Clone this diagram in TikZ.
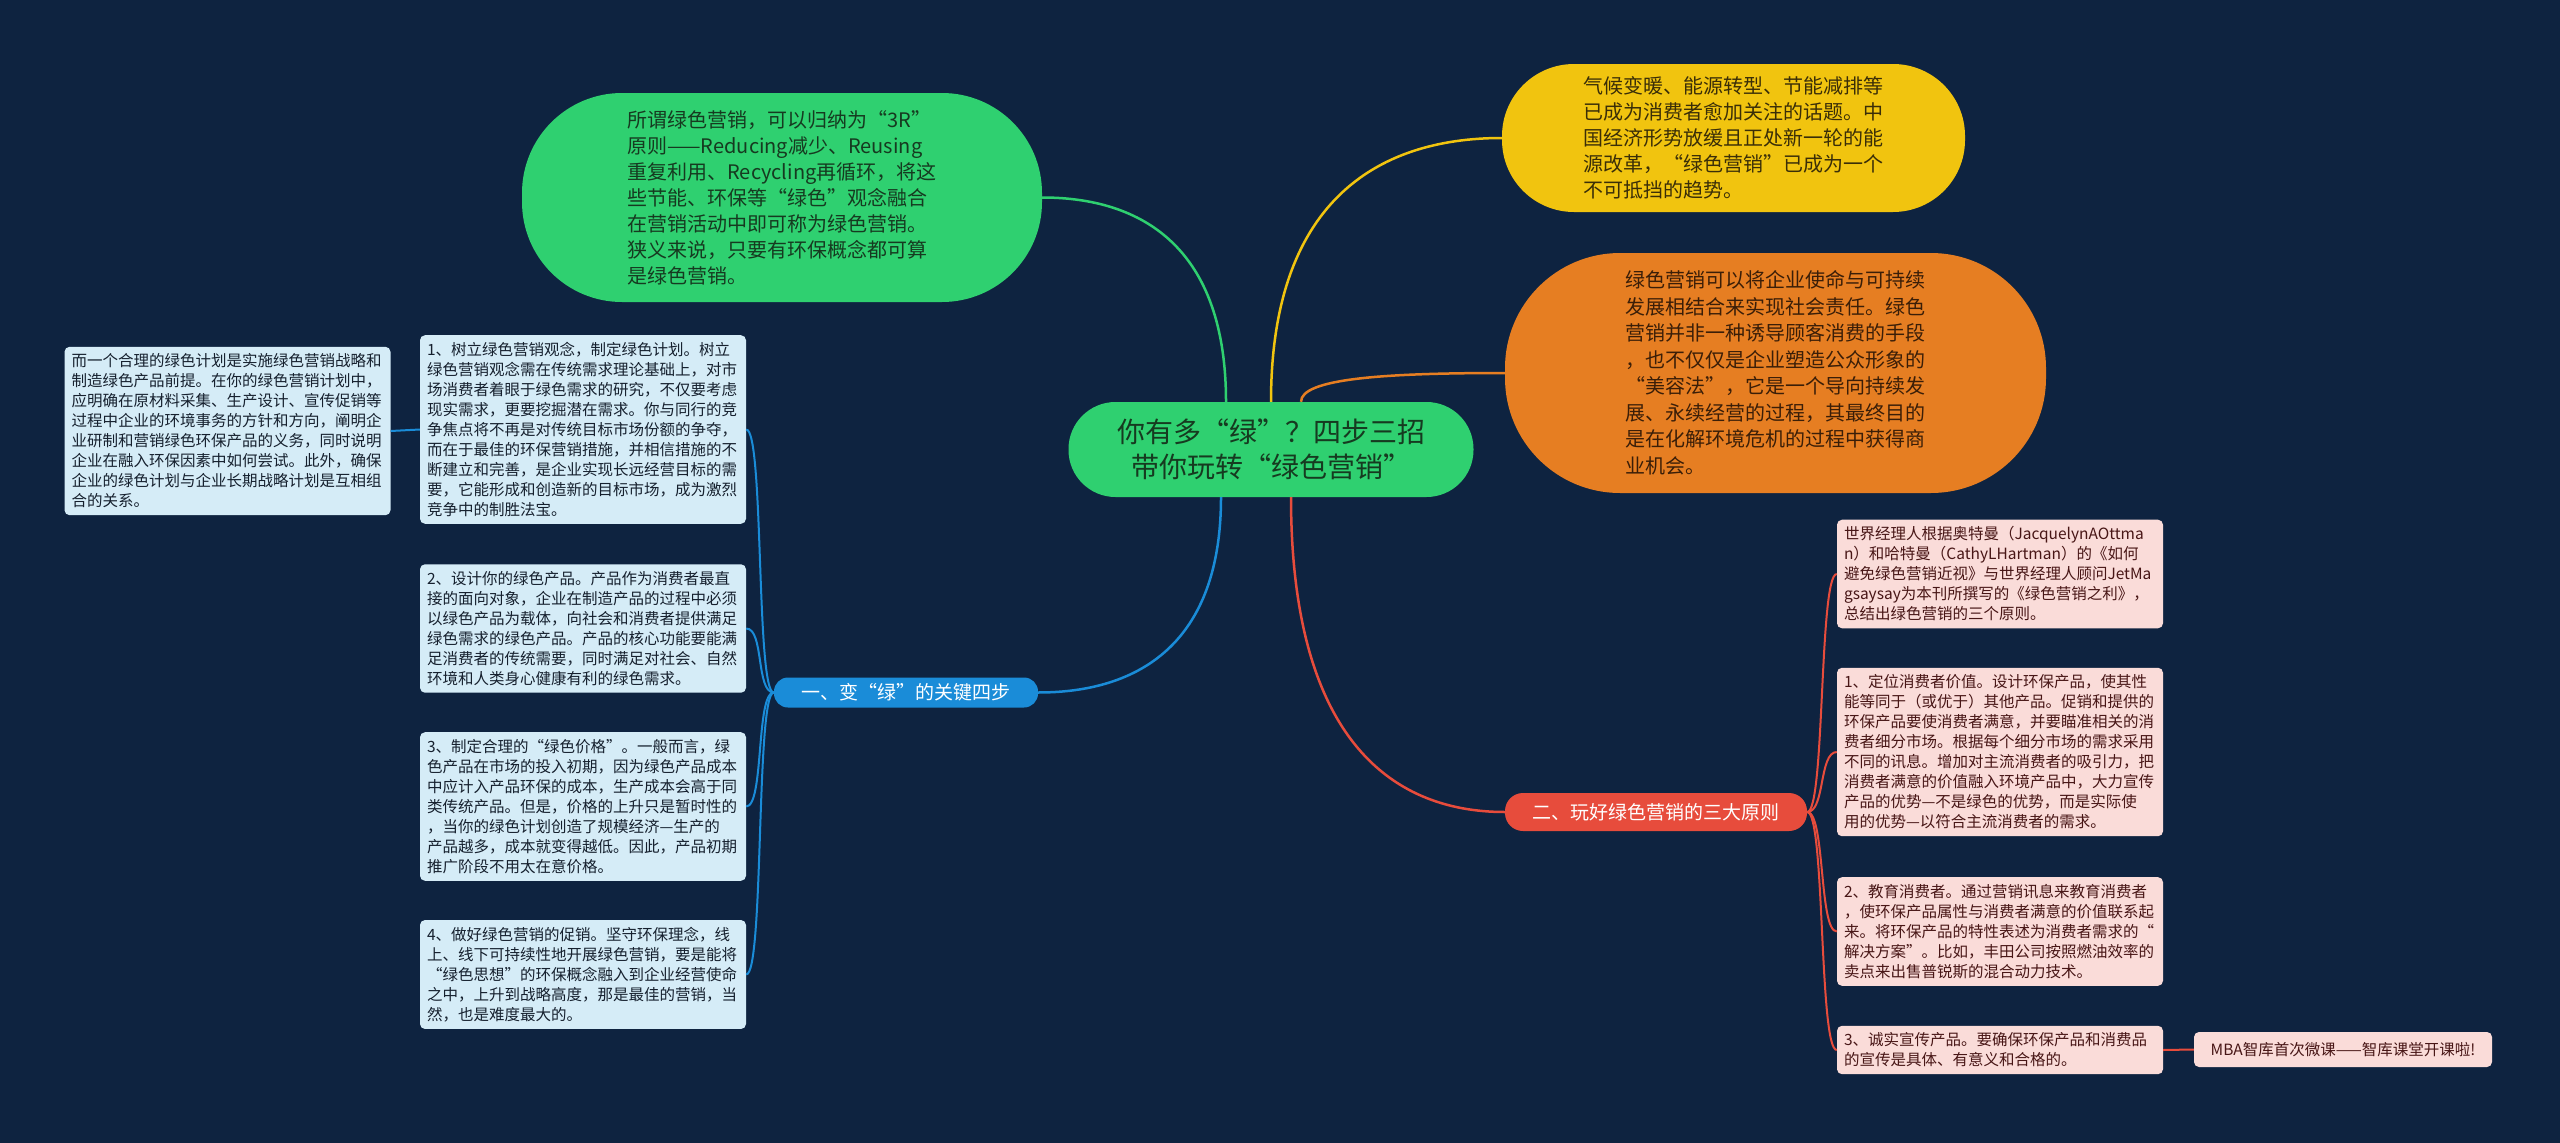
\documentclass[tikz,border=0pt]{standalone}
\usepackage{fontspec}
\setmainfont{Noto Sans CJK SC}
\usetikzlibrary{calc}
\definecolor{bg}{RGB}{14,35,64}
\definecolor{gfill}{RGB}{47,208,112}
\definecolor{gtext}{RGB}{22,58,32}
\definecolor{yfill}{RGB}{241,196,15}
\definecolor{ytext}{RGB}{58,46,8}
\definecolor{ofill}{RGB}{230,126,34}
\definecolor{otext}{RGB}{58,30,8}
\definecolor{bfill}{RGB}{26,140,216}
\definecolor{rfill}{RGB}{231,76,60}
\definecolor{lblue}{RGB}{213,236,247}
\definecolor{ltext}{RGB}{22,32,46}
\definecolor{pinkf}{RGB}{250,220,217}
\definecolor{ptext}{RGB}{72,22,22}
\begin{document}
\begin{tikzpicture}[x=1pt,y=-1pt,
  lbox/.style={fill=lblue, text=ltext, rounded corners=5pt, text width=312pt, align=left,
    inner xsep=7pt, inner ysep=7pt, font=\fontsize{15.5}{20}\selectfont},
  pbox/.style={lbox, fill=pinkf, text=ptext},
  mbabox/.style={fill=pinkf, text=ptext, rounded corners=5pt, minimum width=298pt, minimum height=35pt,
    inner xsep=6pt, font=\fontsize{15.5}{20}\selectfont},
  rootnode/.style={fill=gfill, text=gtext, rounded corners=47pt, minimum width=405pt, minimum height=95pt,
    align=center, font=\fontsize{28}{35}\selectfont},
  greennode/.style={fill=gfill, text=gtext, rounded corners=100pt, minimum width=520pt, minimum height=209pt,
    align=left, font=\fontsize{20}{26}\selectfont},
  yellownode/.style={fill=yfill, text=ytext, rounded corners=72pt, minimum width=463pt, minimum height=148pt,
    align=left, font=\fontsize{20}{26}\selectfont},
  orangenode/.style={fill=ofill, text=otext, rounded corners=115pt, minimum width=541pt, minimum height=240pt,
    align=left, font=\fontsize{20}{26.5}\selectfont},
  bluelabel/.style={fill=bfill, text=white, rounded corners=14pt, minimum width=264pt, minimum height=30pt,
    font=\fontsize{19}{22}\selectfont},
  redlabel/.style={fill=rfill, text=white, rounded corners=18pt, minimum width=302pt, minimum height=38pt,
    font=\fontsize{19}{22}\selectfont},
  gline/.style={draw=gfill, line width=2.5pt},
  yline/.style={draw=yfill, line width=2.5pt},
  oline/.style={draw=ofill, line width=2.5pt},
  bline/.style={draw=bfill, line width=2.5pt},
  rline/.style={draw=rfill, line width=2.5pt},
  bsub/.style={draw=bfill, line width=2pt},
  rsub/.style={draw=rfill, line width=2pt}
]
\fill[bg] (0,0) rectangle (2560,1143);
\useasboundingbox (0,0) rectangle (2560,1143);

\node[rootnode] (root) at (1271,449.5) {你有多“绿”？四步三招\\带你玩转“绿色营销”};

\node[greennode] (g) at (782,197.5) {所谓绿色营销，可以归纳为“3R”\\
原则——Reducing减少、Reusing\\
重复利用、Recycling再循环，将这\\
些节能、环保等“绿色”观念融合\\
在营销活动中即可称为绿色营销。\\
狭义来说，只要有环保概念都可算\\
是绿色营销。};

\node[yellownode] (y) at (1733.5,138) {气候变暖、能源转型、节能减排等\\
已成为消费者愈加关注的话题。中\\
国经济形势放缓且正处新一轮的能\\
源改革，“绿色营销”已成为一个\\
不可抵挡的趋势。};

\node[orangenode] (o) at (1775.5,373) {绿色营销可以将企业使命与可持续\\
发展相结合来实现社会责任。绿色\\
营销并非一种诱导顾客消费的手段\\
，也不仅仅是企业塑造公众形象的\\
“美容法”，它是一个导向持续发\\
展、永续经营的过程，其最终目的\\
是在化解环境危机的过程中获得商\\
业机会。};

\node[bluelabel] (bl) at (906,692.5) {一、变“绿”的关键四步};
\node[redlabel] (rl) at (1656,812) {二、玩好绿色营销的三大原则};

\node[lbox] (b1) at (583,429.5) {1、树立绿色营销观念，制定绿色计划。树立\\
绿色营销观念需在传统需求理论基础上，对市\\
场消费者着眼于绿色需求的研究，不仅要考虑\\
现实需求，更要挖掘潜在需求。你与同行的竞\\
争焦点将不再是对传统目标市场份额的争夺，\\
而在于最佳的环保营销措施，并相信措施的不\\
断建立和完善，是企业实现长远经营目标的需\\
要，它能形成和创造新的目标市场，成为激烈\\
竞争中的制胜法宝。};

\node[lbox] (b2) at (583,628.5) {2、设计你的绿色产品。产品作为消费者最直\\
接的面向对象，企业在制造产品的过程中必须\\
以绿色产品为载体，向社会和消费者提供满足\\
绿色需求的绿色产品。产品的核心功能要能满\\
足消费者的传统需要，同时满足对社会、自然\\
环境和人类身心健康有利的绿色需求。};

\node[lbox] (b3) at (583,806.5) {3、制定合理的“绿色价格”。一般而言，绿\\
色产品在市场的投入初期，因为绿色产品成本\\
中应计入产品环保的成本，生产成本会高于同\\
类传统产品。但是，价格的上升只是暂时性的\\
，当你的绿色计划创造了规模经济—生产的\\
产品越多，成本就变得越低。因此，产品初期\\
推广阶段不用太在意价格。};

\node[lbox] (b4) at (583,974.5) {4、做好绿色营销的促销。坚守环保理念，线\\
上、线下可持续性地开展绿色营销，要是能将\\
“绿色思想”的环保概念融入到企业经营使命\\
之中，上升到战略高度，那是最佳的营销，当\\
然，也是难度最大的。};

\node[lbox] (far) at (227.5,431) {而一个合理的绿色计划是实施绿色营销战略和\\
制造绿色产品前提。在你的绿色营销计划中，\\
应明确在原材料采集、生产设计、宣传促销等\\
过程中企业的环境事务的方针和方向，阐明企\\
业研制和营销绿色环保产品的义务，同时说明\\
企业在融入环保因素中如何尝试。此外，确保\\
企业的绿色计划与企业长期战略计划是互相组\\
合的关系。};

\node[pbox] (p0) at (2000,574) {世界经理人根据奥特曼（JacquelynAOttma\\
n）和哈特曼（CathyLHartman）的《如何\\
避免绿色营销近视》与世界经理人顾问JetMa\\
gsaysay为本刊所撰写的《绿色营销之利》，\\
总结出绿色营销的三个原则。};

\node[pbox] (p1) at (2000,752) {1、定位消费者价值。设计环保产品，使其性\\
能等同于（或优于）其他产品。促销和提供的\\
环保产品要使消费者满意，并要瞄准相关的消\\
费者细分市场。根据每个细分市场的需求采用\\
不同的讯息。增加对主流消费者的吸引力，把\\
消费者满意的价值融入环境产品中，大力宣传\\
产品的优势—不是绿色的优势，而是实际使\\
用的优势—以符合主流消费者的需求。};

\node[pbox] (p2) at (2000,931.5) {2、教育消费者。通过营销讯息来教育消费者\\
，使环保产品属性与消费者满意的价值联系起\\
来。将环保产品的特性表述为消费者需求的“\\
解决方案”。比如，丰田公司按照燃油效率的\\
卖点来出售普锐斯的混合动力技术。};

\node[pbox] (p3) at (2000,1050) {3、诚实宣传产品。要确保环保产品和消费品\\
的宣传是具体、有意义和合格的。};

\node[mbabox] (mba) at (2343,1049.5) {MBA智库首次微课——智库课堂开课啦!};

% main connectors
\coordinate (sg) at ([xshift=-45pt]root.north);
\coordinate (sy) at (root.north);
\coordinate (so) at ([xshift=30pt]root.north);
\coordinate (sb) at ([xshift=-50pt]root.south);
\coordinate (sr) at ([xshift=20pt]root.south);
\draw[gline] (sg) .. controls ($(sg)!0.75!(sg |- g.east)$) and ($(g.east)!0.55!(sg |- g.east)$) .. (g.east);
\draw[yline] (sy) .. controls ($(sy)!0.75!(sy |- y.west)$) and ($(y.west)!0.55!(sy |- y.west)$) .. (y.west);
\draw[oline] (so) .. controls ($(so)!0.8!(so |- o.west)$) and ($(o.west)!0.6!(so |- o.west)$) .. (o.west);
\draw[bline] (sb) .. controls ($(sb)!0.75!(sb |- bl.east)$) and ($(bl.east)!0.55!(sb |- bl.east)$) .. (bl.east);
\draw[rline] (sr) .. controls ($(sr)!0.75!(sr |- rl.west)$) and ($(rl.west)!0.55!(sr |- rl.west)$) .. (rl.west);

% left branch
\foreach \b in {b1,b2,b3,b4}{
  \draw[bsub] (bl.west) .. controls ([xshift=-18pt]bl.west) and ([xshift=18pt]\b.east) .. (\b.east);
}
\draw[bsub] (b1.west) -- (far.east);

% right branch
\foreach \p in {p0,p1,p2,p3}{
  \draw[rsub] (rl.east) .. controls ([xshift=18pt]rl.east) and ([xshift=-18pt]\p.west) .. (\p.west);
}
\draw[rsub] (p3.east) -- (mba.west);
\end{tikzpicture}
\end{document}
